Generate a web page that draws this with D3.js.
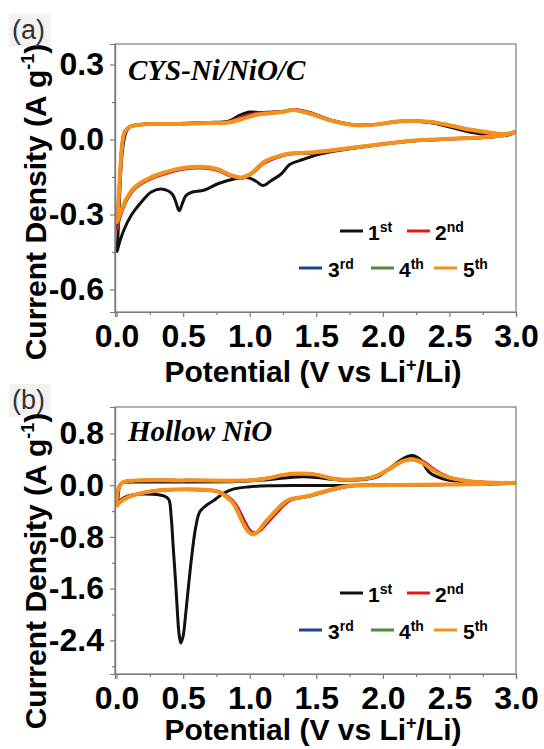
<!DOCTYPE html>
<html lang="en">
<head>
<meta charset="UTF-8">
<title>CV curves</title>
<script src="https://d3js.org/d3.v7.min.js"></script>
<style>
    body { margin: 0; background: #fff; }
    .tick text { font-family: "Liberation Sans", Arial, sans-serif; font-size: 32px; font-weight: bold; fill: #000; }
    .axis-title { font-family: "Liberation Sans", Arial, sans-serif; font-size: 30px; font-weight: bold; }
    .sample { font-family: "Liberation Serif", "Times New Roman", serif; font-size: 29px; font-weight: bold; font-style: italic; }
    .legend { font-family: "Liberation Sans", Arial, sans-serif; font-size: 21px; font-weight: bold; }
    .panel-label { font-family: "Liberation Sans", Arial, sans-serif; font-size: 27px; fill: #333; }
</style>
</head>
<body>
<script>
    // x axis ticks (potential, V vs Li+/Li)
    const potentialTicks = [0, 0.5, 1.0, 1.5, 2.0, 2.5, 3.0];
    const potentialMinor = [0.25, 0.75, 1.25, 1.75, 2.25, 2.75];

    // y axis ticks (current density)
    const ticksA = [0.3, 0.0, -0.3, -0.6];
    const minorA = [0.15, -0.15, -0.45];
    const ticksB = [0.8, 0.0, -0.8, -1.6, -2.4];
    const minorB = [0.4, -0.4, -1.2, -2.0, -2.8];

    const cycleNum = ['1', '2', '3', '4', '5'];
    const cycleSuffix = ['st', 'nd', 'rd', 'th', 'th'];
    const cycleColors = ['#111111', '#e8141c', '#1d3f9e', '#4e8a3c', '#f5901e'];

    // (a) CYS-Ni/NiO/C, [V, I] pairs, cathodic 3.0 -> 0 then anodic 0 -> 3.0
    const cvA1 = [[3.0,0.03],[2.85,0.012],[2.6,0.005],[2.4,0.0],[2.2,-0.007],[2.0,-0.018],[1.8,-0.033],[1.6,-0.05],
        [1.5,-0.062],[1.4,-0.08],[1.3,-0.1],[1.24,-0.136],[1.16,-0.165],[1.1,-0.184],[1.05,-0.168],[0.99,-0.153],
        [0.89,-0.157],[0.76,-0.177],[0.66,-0.202],[0.56,-0.212],[0.52,-0.225],[0.49,-0.262],[0.47,-0.285],
        [0.445,-0.25],[0.42,-0.22],[0.385,-0.205],[0.33,-0.198],[0.26,-0.21],[0.19,-0.248],[0.11,-0.303],
        [0.05,-0.368],[0.015,-0.425],[0.003,-0.448],
        [0.008,-0.41],[0.02,-0.26],[0.035,-0.1],[0.05,-0.02],[0.075,0.035],[0.11,0.054],[0.19,0.06],[0.44,0.064],
        [0.69,0.068],[0.84,0.073],[0.93,0.098],[1.0,0.11],[1.08,0.108],[1.24,0.112],[1.34,0.12],[1.45,0.108],
        [1.63,0.075],[1.8,0.058],[1.95,0.06],[2.13,0.072],[2.35,0.068],[2.5,0.05],[2.65,0.03],[2.8,0.018],
        [2.92,0.016],[3.0,0.03]];
    const cvA2 = [[3.0,0.03],[2.88,0.015],[2.68,0.006],[2.43,0.0],[2.18,-0.008],[1.93,-0.024],[1.68,-0.041],
        [1.45,-0.055],[1.3,-0.058],[1.24,-0.066],[1.11,-0.094],[1.01,-0.139],[0.94,-0.155],[0.86,-0.147],
        [0.76,-0.124],[0.64,-0.114],[0.51,-0.118],[0.36,-0.138],[0.24,-0.162],[0.14,-0.196],[0.074,-0.245],
        [0.036,-0.295],[0.011,-0.34],[0.003,-0.36],
        [0.008,-0.32],[0.024,-0.16],[0.041,-0.025],[0.061,0.03],[0.099,0.05],[0.19,0.06],[0.44,0.063],
        [0.69,0.067],[0.84,0.07],[0.94,0.09],[1.04,0.104],[1.24,0.111],[1.33,0.118],[1.45,0.105],[1.63,0.074],
        [1.8,0.058],[1.95,0.06],[2.13,0.073],[2.35,0.07],[2.5,0.055],[2.65,0.037],[2.8,0.024],[2.92,0.02],[3.0,0.03]];
    const cvA3 = [[3.0,0.03],[2.88,0.015],[2.68,0.007],[2.43,0.0],[2.18,-0.007],[1.93,-0.023],[1.68,-0.04],
        [1.45,-0.054],[1.3,-0.057],[1.24,-0.064],[1.11,-0.091],[1.01,-0.137],[0.94,-0.154],[0.86,-0.145],
        [0.76,-0.121],[0.64,-0.111],[0.51,-0.115],[0.36,-0.134],[0.24,-0.158],[0.14,-0.191],[0.074,-0.24],
        [0.036,-0.288],[0.011,-0.328],[0.003,-0.342],
        [0.008,-0.31],[0.024,-0.158],[0.041,-0.024],[0.061,0.031],[0.099,0.051],[0.19,0.06],[0.44,0.062],
        [0.69,0.066],[0.84,0.069],[0.94,0.085],[1.05,0.101],[1.24,0.11],[1.33,0.118],[1.45,0.104],[1.63,0.073],
        [1.8,0.057],[1.95,0.06],[2.13,0.073],[2.35,0.071],[2.5,0.056],[2.65,0.039],[2.8,0.027],[2.92,0.021],[3.0,0.03]];
    const cvA4 = [[3.0,0.03],[2.88,0.015],[2.68,0.007],[2.43,0.001],[2.18,-0.007],[1.93,-0.023],[1.68,-0.039],
        [1.45,-0.053],[1.3,-0.056],[1.24,-0.063],[1.11,-0.09],[1.01,-0.137],[0.94,-0.155],[0.86,-0.144],
        [0.76,-0.12],[0.64,-0.11],[0.51,-0.114],[0.36,-0.133],[0.24,-0.157],[0.14,-0.19],[0.074,-0.238],
        [0.036,-0.285],[0.011,-0.323],[0.003,-0.336],
        [0.008,-0.305],[0.024,-0.157],[0.041,-0.023],[0.061,0.031],[0.099,0.051],[0.19,0.06],[0.44,0.062],
        [0.69,0.066],[0.84,0.068],[0.94,0.083],[1.06,0.1],[1.24,0.11],[1.33,0.118],[1.45,0.104],[1.63,0.073],
        [1.8,0.057],[1.95,0.06],[2.13,0.073],[2.35,0.071],[2.5,0.057],[2.65,0.04],[2.8,0.028],[2.92,0.022],[3.0,0.03]];
    const cvA5 = [[3.0,0.03],[2.88,0.015],[2.68,0.007],[2.43,0.001],[2.18,-0.007],[1.93,-0.023],[1.68,-0.039],
        [1.45,-0.052],[1.3,-0.056],[1.24,-0.063],[1.11,-0.089],[1.01,-0.136],[0.94,-0.152],[0.86,-0.143],
        [0.76,-0.119],[0.64,-0.109],[0.51,-0.113],[0.36,-0.132],[0.24,-0.156],[0.14,-0.189],[0.074,-0.236],
        [0.036,-0.283],[0.011,-0.319],[0.003,-0.33],
        [0.008,-0.3],[0.024,-0.156],[0.041,-0.023],[0.061,0.031],[0.099,0.051],[0.19,0.06],[0.44,0.062],
        [0.69,0.066],[0.84,0.068],[0.94,0.082],[1.06,0.1],[1.24,0.11],[1.33,0.118],[1.45,0.104],[1.63,0.073],
        [1.8,0.057],[1.95,0.06],[2.13,0.073],[2.35,0.071],[2.5,0.057],[2.65,0.04],[2.8,0.028],[2.92,0.022],[3.0,0.03]];

    // (b) Hollow NiO
    const cvB1 = [[3.0,0.03],[2.8,0.02],[2.5,0.01],[2.2,0.005],[1.9,0.0],[1.7,-0.003],[1.4,-0.005],[1.14,-0.01],
        [0.99,-0.026],[0.875,-0.06],[0.8,-0.13],[0.74,-0.22],[0.675,-0.31],[0.625,-0.41],[0.595,-0.64],
        [0.57,-1.0],[0.545,-1.46],[0.52,-1.97],[0.5,-2.33],[0.482,-2.44],[0.468,-2.28],[0.457,-1.97],
        [0.442,-1.46],[0.425,-0.95],[0.41,-0.49],[0.392,-0.22],[0.36,-0.17],[0.19,-0.135],[0.08,-0.17],
        [0.02,-0.25],[0.003,-0.31],
        [0.01,-0.2],[0.025,0.0],[0.05,0.042],[0.1,0.048],[0.5,0.05],[0.9,0.056],[1.1,0.08],[1.3,0.12],[1.4,0.13],
        [1.5,0.12],[1.65,0.085],[1.8,0.08],[1.95,0.125],[2.05,0.26],[2.15,0.41],[2.22,0.46],[2.28,0.4],
        [2.35,0.2],[2.45,0.1],[2.6,0.055],[2.8,0.035],[3.0,0.03]];
    const cvB2 = [[3.0,0.04],[2.88,0.026],[2.5,0.01],[1.98,0.0],[1.75,-0.015],[1.57,-0.1],[1.45,-0.17],[1.32,-0.22],
        [1.26,-0.3],[1.21,-0.41],[1.13,-0.59],[1.08,-0.7],[1.045,-0.74],[1.01,-0.71],[0.97,-0.59],[0.93,-0.42],
        [0.89,-0.28],[0.84,-0.18],[0.77,-0.1],[0.69,-0.077],[0.44,-0.067],[0.24,-0.1],[0.09,-0.18],[0.02,-0.27],
        [0.003,-0.31],
        [0.01,-0.08],[0.04,0.036],[0.09,0.066],[0.5,0.074],[1.01,0.076],[1.14,0.108],[1.25,0.155],[1.38,0.176],
        [1.5,0.162],[1.63,0.1],[1.78,0.086],[1.93,0.125],[2.05,0.25],[2.15,0.37],[2.23,0.41],[2.31,0.36],
        [2.39,0.24],[2.49,0.13],[2.63,0.068],[2.78,0.042],[2.9,0.035],[3.0,0.04]];
    const cvB3 = [[3.0,0.04],[2.88,0.026],[2.5,0.01],[1.98,0.0],[1.74,-0.015],[1.56,-0.1],[1.44,-0.17],[1.31,-0.22],
        [1.25,-0.3],[1.2,-0.41],[1.12,-0.59],[1.07,-0.71],[1.035,-0.75],[1.0,-0.715],[0.96,-0.59],[0.92,-0.415],
        [0.882,-0.28],[0.832,-0.18],[0.765,-0.1],[0.69,-0.077],[0.44,-0.067],[0.24,-0.1],[0.09,-0.18],[0.02,-0.27],
        [0.003,-0.31],
        [0.01,-0.08],[0.04,0.036],[0.09,0.067],[0.5,0.075],[1.01,0.077],[1.14,0.11],[1.25,0.158],[1.38,0.178],
        [1.5,0.163],[1.63,0.1],[1.78,0.087],[1.93,0.127],[2.05,0.253],[2.15,0.372],[2.23,0.4],[2.3,0.35],
        [2.385,0.235],[2.485,0.129],[2.63,0.067],[2.78,0.041],[2.9,0.035],[3.0,0.04]];
    const cvB4 = [[3.0,0.04],[2.88,0.026],[2.5,0.01],[1.98,0.0],[1.73,-0.015],[1.555,-0.1],[1.435,-0.17],[1.305,-0.22],
        [1.245,-0.3],[1.195,-0.41],[1.115,-0.59],[1.065,-0.715],[1.03,-0.755],[0.995,-0.72],[0.955,-0.59],
        [0.915,-0.41],[0.878,-0.28],[0.828,-0.18],[0.762,-0.1],[0.69,-0.077],[0.44,-0.067],[0.24,-0.1],
        [0.09,-0.18],[0.02,-0.27],[0.003,-0.31],
        [0.01,-0.08],[0.04,0.036],[0.09,0.067],[0.5,0.075],[1.01,0.077],[1.14,0.11],[1.25,0.159],[1.38,0.179],
        [1.5,0.164],[1.63,0.1],[1.78,0.087],[1.93,0.128],[2.05,0.255],[2.15,0.373],[2.23,0.397],[2.3,0.346],
        [2.38,0.232],[2.48,0.128],[2.63,0.067],[2.78,0.041],[2.9,0.035],[3.0,0.04]];
    const cvB5 = [[3.0,0.04],[2.88,0.026],[2.5,0.01],[1.98,0.0],[1.73,-0.015],[1.55,-0.1],[1.43,-0.17],[1.3,-0.22],
        [1.24,-0.3],[1.19,-0.41],[1.11,-0.59],[1.06,-0.72],[1.025,-0.76],[0.99,-0.72],[0.95,-0.59],[0.91,-0.41],
        [0.875,-0.28],[0.825,-0.18],[0.76,-0.1],[0.69,-0.077],[0.44,-0.067],[0.24,-0.1],[0.09,-0.18],[0.02,-0.27],
        [0.003,-0.31],
        [0.01,-0.08],[0.04,0.036],[0.09,0.067],[0.5,0.075],[1.01,0.077],[1.14,0.11],[1.25,0.16],[1.38,0.18],
        [1.5,0.164],[1.63,0.1],[1.78,0.087],[1.93,0.128],[2.05,0.256],[2.15,0.374],[2.23,0.395],[2.3,0.344],
        [2.38,0.23],[2.48,0.128],[2.63,0.067],[2.78,0.041],[2.9,0.035],[3.0,0.04]];

    const svg = d3.select('body').append('svg')
        .attr('width', 544)
        .attr('height', 749);

    const xScaleFor = () => d3.scaleLinear().domain([-0.012, 3.0]).range([115, 516]);

    const panels = [
        { id: 'a', label: '(a)', sample: 'CYS-Ni/NiO/C', top: 44, bottom: 312, yDomain: [-0.69, 0.382],
          major: ticksA, minor: minorA, cycles: [cvA1, cvA2, cvA3, cvA4, cvA5],
          labelY: 39, sampleY: 80, tickY: 35, titleX: 382, titleYc: 202, legendY: 231 },
        { id: 'b', label: '(b)', sample: 'Hollow NiO', top: 407, bottom: 674, yDomain: [-2.92, 1.21],
          major: ticksB, minor: minorB, cycles: [cvB1, cvB2, cvB3, cvB4, cvB5],
          labelY: 409, sampleY: 441, tickY: 35, titleX: 740, titleYc: 571, legendY: 593 }
    ];

    // legend slot layout: [row, lineX, textX]
    const legendSlots = [[0, 340, 368], [0, 407, 435], [1, 299, 328], [1, 371, 399], [1, 434, 463]];

    panels.forEach(p => {
        const x = xScaleFor();
        const y = d3.scaleLinear().domain(p.yDomain).range([p.bottom, p.top]);
        const g = svg.append('g');

        // panel label
        g.append('rect')
            .attr('x', 9).attr('y', p.labelY - 25).attr('width', 42).attr('height', 33)
            .attr('fill', '#f2f2f2');
        g.append('text')
            .attr('class', 'panel-label')
            .attr('x', 12).attr('y', p.labelY)
            .text(p.label);

        // clip
        g.append('clipPath').attr('id', 'clip-' + p.id)
            .append('rect')
            .attr('x', 115).attr('y', p.top)
            .attr('width', 401).attr('height', p.bottom - p.top);

        // curves
        const line = d3.line()
            .x(d => x(d[0]))
            .y(d => y(d[1]))
            .curve(d3.curveCatmullRom.alpha(0.5));

        g.append('g')
            .attr('clip-path', `url(#clip-${p.id})`)
            .selectAll('path')
            .data(p.cycles)
            .enter()
            .append('path')
            .attr('d', line)
            .attr('fill', 'none')
            .attr('stroke', (d, i) => cycleColors[i])
            .attr('stroke-width', (d, i) => i === 4 ? 4 : 3)
            .attr('stroke-linejoin', 'round');

        // frame
        g.append('rect')
            .attr('x', 115).attr('y', p.top)
            .attr('width', 401).attr('height', p.bottom - p.top)
            .attr('fill', 'none')
            .attr('stroke', '#7a7a7a')
            .attr('stroke-width', 1.2);

        // y axis
        g.append('g')
            .attr('transform', 'translate(115,0)')
            .call(d3.axisLeft(y).tickValues(p.major).tickSize(5).tickPadding(6)
                .tickFormat(d => d.toFixed(1)));
        g.append('g')
            .attr('transform', 'translate(115,0)')
            .call(d3.axisLeft(y).tickValues(p.minor).tickSize(3).tickFormat(''));

        // x axis
        const xAxis = g.append('g')
            .attr('transform', `translate(0,${p.bottom})`)
            .call(d3.axisBottom(x).tickValues(potentialTicks).tickSize(5)
                .tickFormat(d => d.toFixed(1)));
        xAxis.selectAll('text').attr('y', p.tickY).attr('dy', null);
        g.append('g')
            .attr('transform', `translate(0,${p.bottom})`)
            .call(d3.axisBottom(x).tickValues(potentialMinor).tickSize(3).tickFormat(''));

        g.selectAll('.domain').attr('stroke', '#7a7a7a').attr('stroke-width', 1.2);
        g.selectAll('.tick line').attr('stroke', '#7a7a7a').attr('stroke-width', 1.2);

        // sample name
        g.append('text')
            .attr('class', 'sample')
            .attr('x', 128).attr('y', p.sampleY)
            .text(p.sample);

        // axis titles
        const xt = g.append('text')
            .attr('class', 'axis-title')
            .attr('x', 313).attr('y', p.titleX)
            .attr('text-anchor', 'middle');
        xt.append('tspan').text('Potential (V vs Li');
        xt.append('tspan').attr('font-size', 18).attr('dy', -11).text('+');
        xt.append('tspan').attr('dy', 11).text('/Li)');

        const yt = g.append('text')
            .attr('class', 'axis-title')
            .attr('font-size', 31)
            .attr('text-anchor', 'middle')
            .attr('transform', `translate(46,${p.titleYc}) rotate(-90)`);
        yt.append('tspan').text('Current Density (A g');
        yt.append('tspan').attr('font-size', 18).attr('dy', -12).text('-1');
        yt.append('tspan').attr('dy', 12).text(')');

        // legend
        const leg = g.selectAll('.legend-item')
            .data(cycleNum)
            .enter()
            .append('g')
            .attr('class', 'legend');
        leg.append('line')
            .attr('x1', (d, i) => legendSlots[i][1])
            .attr('x2', (d, i) => legendSlots[i][1] + 23)
            .attr('y1', (d, i) => p.legendY + legendSlots[i][0] * 37)
            .attr('y2', (d, i) => p.legendY + legendSlots[i][0] * 37)
            .attr('stroke', (d, i) => cycleColors[i])
            .attr('stroke-width', 3);
        const lt = leg.append('text')
            .attr('x', (d, i) => legendSlots[i][2])
            .attr('y', (d, i) => p.legendY + legendSlots[i][0] * 37 + 9);
        lt.append('tspan').text(d => d);
        lt.append('tspan').attr('font-size', 14).attr('dy', -8).text((d, i) => cycleSuffix[i]);
    });
</script>
</body>
</html>
